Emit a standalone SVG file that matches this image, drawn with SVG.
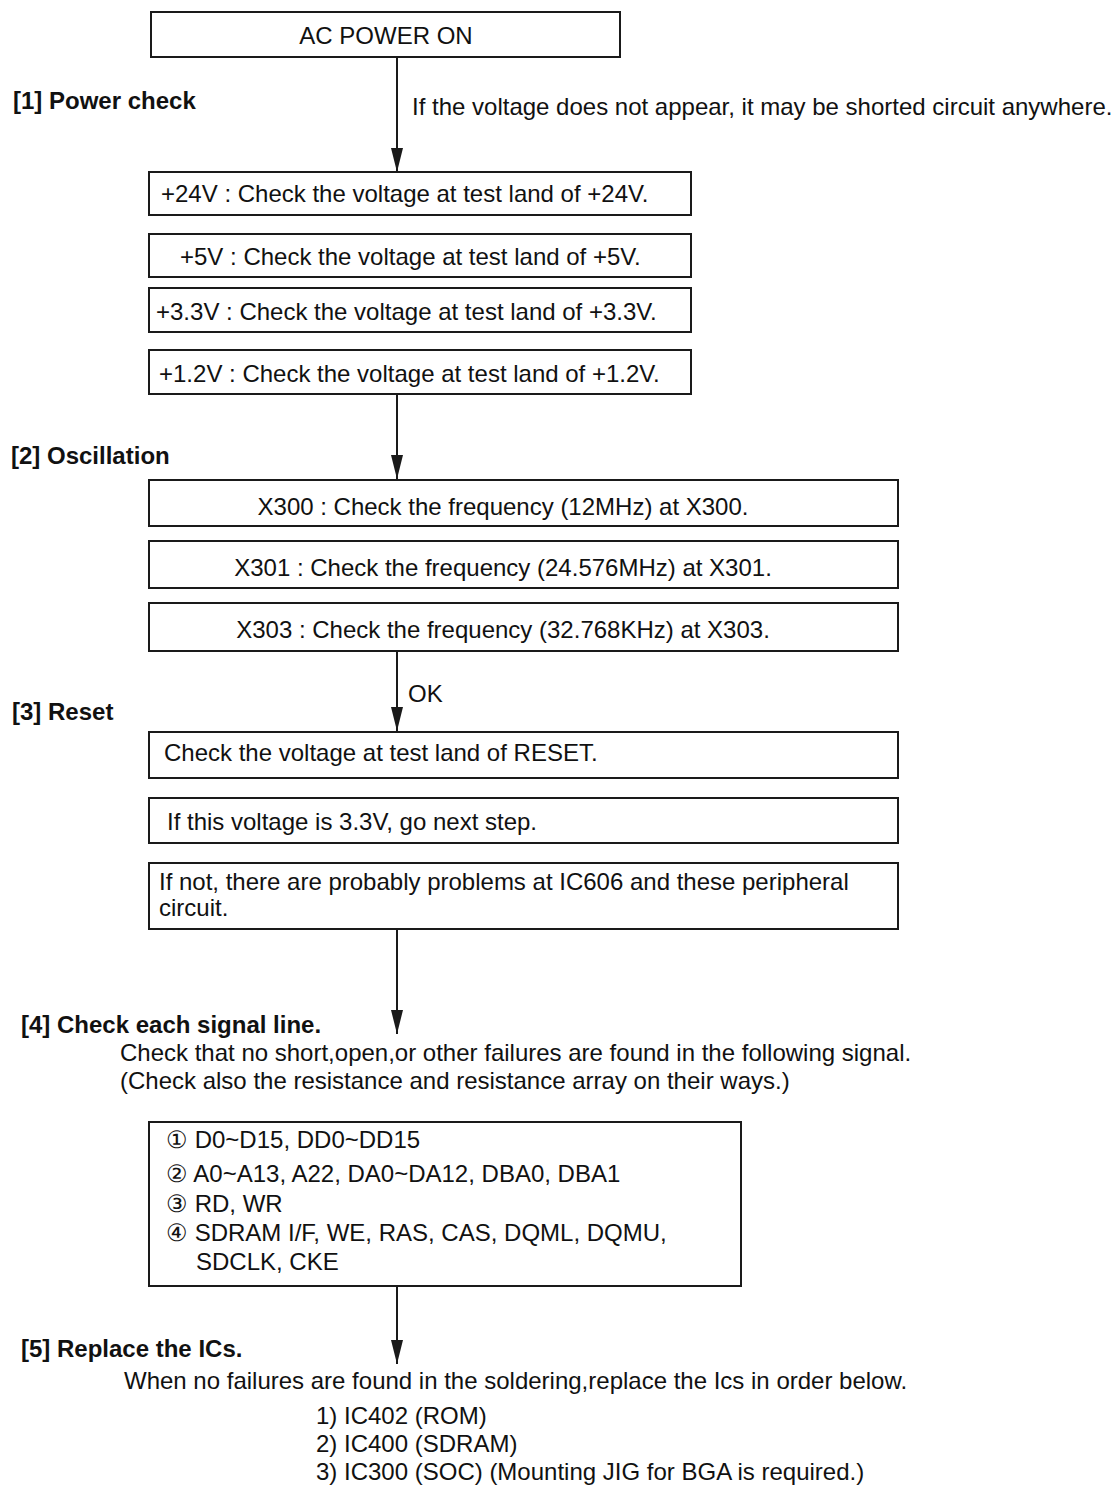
<svg xmlns="http://www.w3.org/2000/svg" width="1115" height="1486" viewBox="0 0 1115 1486">
  <style>
    .box { fill: #ffffff; stroke: #1a1a1a; stroke-width: 2; }
    .t { font-family: "Liberation Sans", Arial, sans-serif; font-size: 24px; fill: #111111; }
    .h { font-family: "Liberation Sans", Arial, sans-serif; font-size: 24px; font-weight: bold; fill: #111111; }
    .c { text-anchor: middle; }
    .wire { stroke: #1a1a1a; stroke-width: 2; fill: none; }
  </style>
  <defs>
    <marker id="head" viewBox="0 0 12 24" refX="6" refY="24" markerWidth="12" markerHeight="24" markerUnits="userSpaceOnUse" orient="0">
      <path d="M0,0 L12,0 L6,24 Z" fill="#1a1a1a"/>
    </marker>
  </defs>
  <rect width="1115" height="1486" fill="#ffffff"/>

  <!-- section headings -->
  <g id="headings">
    <text class="h" x="13" y="109">[1] Power check</text>
    <text class="h" x="11" y="464">[2] Oscillation</text>
    <text class="h" x="12" y="720">[3] Reset</text>
    <text class="h" x="21" y="1033">[4] Check each signal line.</text>
    <text class="h" x="21" y="1357">[5] Replace the ICs.</text>
  </g>

  <!-- connectors -->
  <g id="connectors">
    <line class="wire" x1="397" y1="57" x2="397" y2="172" marker-end="url(#head)"/>
    <line class="wire" x1="397" y1="394" x2="397" y2="479" marker-end="url(#head)"/>
    <line class="wire" x1="397" y1="651" x2="397" y2="731" marker-end="url(#head)"/>
    <line class="wire" x1="397" y1="929" x2="397" y2="1034" marker-end="url(#head)"/>
    <line class="wire" x1="397" y1="1286" x2="397" y2="1364" marker-end="url(#head)"/>
    <text class="t" x="412" y="115">If the voltage does not appear, it may be shorted circuit anywhere.</text>
    <text class="t" x="408" y="702">OK</text>
  </g>

  <g id="n-acpower">
    <rect class="box" x="151" y="12" width="469" height="45"/>
    <text class="t c" x="386" y="44">AC POWER ON</text>
  </g>

  <g id="n-24v">
    <rect class="box" x="149" y="172" width="542" height="43"/>
    <text class="t" x="161" y="202">+24V : Check the voltage at test land of +24V.</text>
  </g>
  <g id="n-5v">
    <rect class="box" x="149" y="234" width="542" height="43"/>
    <text class="t" x="180" y="265">+5V : Check the voltage at test land of +5V.</text>
  </g>
  <g id="n-3v3">
    <rect class="box" x="149" y="288" width="542" height="44"/>
    <text class="t" x="156" y="320">+3.3V : Check the voltage at test land of +3.3V.</text>
  </g>
  <g id="n-1v2">
    <rect class="box" x="149" y="350" width="542" height="44"/>
    <text class="t" x="159" y="382">+1.2V : Check the voltage at test land of +1.2V.</text>
  </g>

  <g id="n-x300">
    <rect class="box" x="149" y="480" width="749" height="46"/>
    <text class="t c" x="503" y="515">X300 : Check the frequency (12MHz) at X300.</text>
  </g>
  <g id="n-x301">
    <rect class="box" x="149" y="541" width="749" height="47"/>
    <text class="t c" x="503" y="576">X301 : Check the frequency (24.576MHz) at X301.</text>
  </g>
  <g id="n-x303">
    <rect class="box" x="149" y="603" width="749" height="48"/>
    <text class="t c" x="503" y="638">X303 : Check the frequency (32.768KHz) at X303.</text>
  </g>

  <g id="n-reset">
    <rect class="box" x="149" y="732" width="749" height="46"/>
    <text class="t" x="164" y="761">Check the voltage at test land of RESET.</text>
  </g>
  <g id="n-reset-ok">
    <rect class="box" x="149" y="798" width="749" height="45"/>
    <text class="t" x="167" y="830">If this voltage is 3.3V, go next step.</text>
  </g>
  <g id="n-reset-ng">
    <rect class="box" x="149" y="863" width="749" height="66"/>
    <text class="t" x="159" y="890">If not, there are probably problems at IC606 and these peripheral</text>
    <text class="t" x="159" y="916">circuit.</text>
  </g>

  <g id="n-signal-note">
    <text class="t" x="120" y="1061">Check that no short,open,or other failures are found in the following signal.</text>
    <text class="t" x="120" y="1089">(Check also the resistance and resistance array on their ways.)</text>
  </g>

  <g id="n-signals">
    <rect class="box" x="149" y="1122" width="592" height="164"/>
    <text class="t" x="166" y="1148">① D0~D15, DD0~DD15</text>
    <text class="t" x="166" y="1182">② A0~A13, A22, DA0~DA12, DBA0, DBA1</text>
    <text class="t" x="166" y="1212">③ RD, WR</text>
    <text class="t" x="166" y="1241">④ SDRAM I/F, WE, RAS, CAS, DQML, DQMU,</text>
    <text class="t" x="196" y="1270">SDCLK, CKE</text>
  </g>

  <g id="n-replace">
    <text class="t" x="124" y="1389">When no failures are found in the soldering,replace the Ics in order below.</text>
    <text class="t" x="316" y="1424">1) IC402 (ROM)</text>
    <text class="t" x="316" y="1452">2) IC400 (SDRAM)</text>
    <text class="t" x="316" y="1480">3) IC300 (SOC) (Mounting JIG for BGA is required.)</text>
  </g>
</svg>
